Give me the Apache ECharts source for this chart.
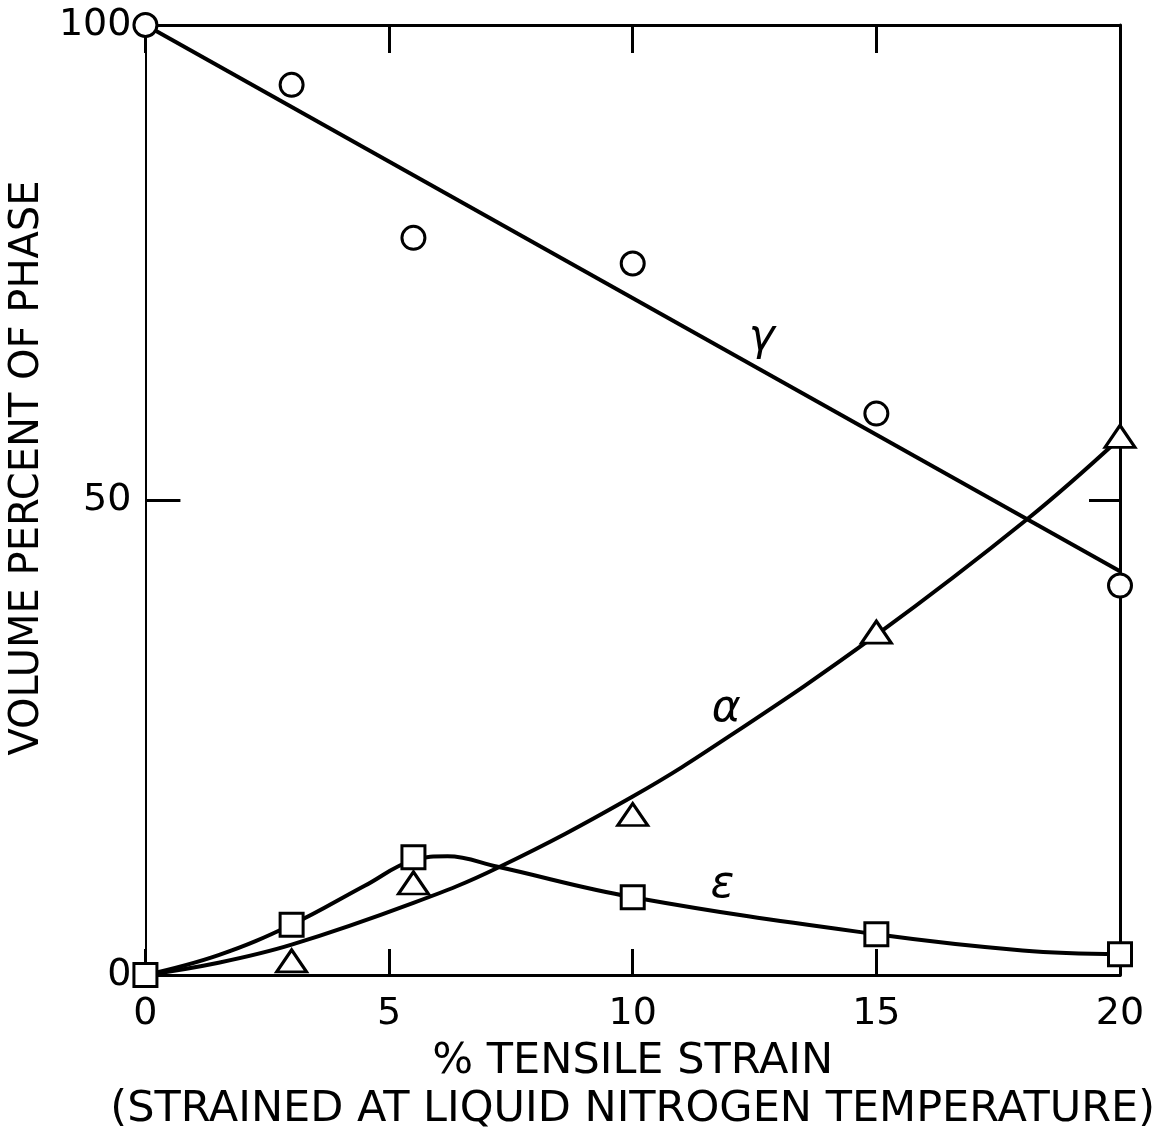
<!DOCTYPE html>
<html>
<head>
<meta charset="utf-8">
<script src="https://cdn.jsdelivr.net/npm/echarts@6/dist/echarts.min.js"></script>
<style>
html,body{margin:0;padding:0;background:#fff;}
#chart{width:1171px;height:1139px;}
</style>
</head>
<body>
<div id="chart"></div>
<script>
// Measured points (x = % tensile strain, y = volume percent)
var gammaPoints = [[0,100],[3,93.7],[5.5,77.6],[10,74.9],[15,59.1],[20,41]];
var alphaPoints = [[3,1.5],[5.5,9.7],[10,16.9],[15,36.1],[20,56.7]];
var epsilonPoints = [[0,0],[3,5.3],[5.5,12.4],[10,8.2],[15,4.3],[20,2.2]];

// Hand-drawn curves
var gammaLine = [[0,100],[20,42.5]];
var alphaCurve = [[0,0],[1.5,1.3],[3,3.2],[5.5,7.6],[7.23,11.3],[10,18.8],[12,25.2],[15,35.8],[18.1,48],[20,56.5]];
var epsilonCurve = [[0,0],[1.5,2.1],[3,5.3],[4.5,9.4],[5.5,12.1],[6.2,12.5],[7.23,11.4],[10,8.2],[15,4.3],[18,2.6],[20,2.2]];

// Curve labels [x, y, text]
var curveLabels = [[12.65,67,'γ'],[11.92,28,'α'],[11.84,9.4,'ε']];

var xTicks = [0,5,10,15,20];
var yTicks = [0,50,100];

var FONT = 'DejaVu Sans';
var chart = echarts.init(document.getElementById('chart'), null, {renderer:'canvas'});

function lineSeries(data){
  return {type:'line', data:data, smooth:0.4, symbol:'none', xAxisIndex:0, yAxisIndex:0,
    lineStyle:{color:'#000', width:4}, z:2, silent:true};
}
function markerSeries(data, symbol, size){
  return {type:'scatter', data:data, symbol:symbol, symbolSize:size, xAxisIndex:0, yAxisIndex:0,
    itemStyle:{color:'#fff', borderColor:'#000', borderWidth:3, opacity:1}, z:5, silent:true};
}

var option = {
  animation:false,
  backgroundColor:'#fff',
  grid:{left:133, right:51, top:25, bottom:151, containLabel:false},
  xAxis:[{
    type:'value', min:xTicks[0], max:xTicks[xTicks.length-1], interval:5, position:'bottom',
    axisLine:{show:true, onZero:false, lineStyle:{color:'#000', width:3}},
    axisTick:{show:true, inside:true, length:26, lineStyle:{color:'#000', width:3}},
    axisLabel:{color:'#000', fontFamily:FONT, fontSize:38, margin:20},
    splitLine:{show:false},
    name:'% TENSILE STRAIN\n(STRAINED AT LIQUID NITROGEN TEMPERATURE)',
    nameLocation:'middle', nameGap:56,
    nameTextStyle:{color:'#000', fontFamily:FONT, fontSize:43, lineHeight:48}
  },{
    type:'value', min:0, max:20, interval:5, position:'top',
    axisLine:{show:true, onZero:false, lineStyle:{color:'#000', width:3}},
    axisTick:{show:true, inside:true, length:28, lineStyle:{color:'#000', width:3}},
    axisLabel:{show:false}, splitLine:{show:false}
  }],
  yAxis:[{
    type:'value', min:yTicks[0], max:yTicks[yTicks.length-1], interval:50, position:'left',
    axisLine:{show:true, onZero:false, lineStyle:{color:'#000', width:2}},
    axisTick:{show:true, inside:true, length:35, lineStyle:{color:'#000', width:3}},
    axisLabel:{color:'#000', fontFamily:FONT, fontSize:38, margin:14},
    splitLine:{show:false},
    name:'VOLUME PERCENT OF PHASE', nameLocation:'middle', nameGap:88,
    nameTextStyle:{color:'#000', fontFamily:FONT, fontSize:40, padding:[0,0,0,64]}
  },{
    type:'value', min:0, max:100, interval:50, position:'right',
    axisLine:{show:true, onZero:false, lineStyle:{color:'#000', width:3}},
    axisTick:{show:true, inside:true, length:31, lineStyle:{color:'#000', width:3}},
    axisLabel:{show:false}, splitLine:{show:false}
  }],
  series:[
    lineSeries(gammaLine),
    lineSeries(alphaCurve),
    lineSeries(epsilonCurve),
    markerSeries(gammaPoints, 'circle', 23),
    markerSeries(alphaPoints, 'triangle', [30,22]),
    markerSeries(epsilonPoints, 'rect', 23),
    {type:'scatter', data:curveLabels, symbolSize:1, itemStyle:{opacity:0}, xAxisIndex:0, yAxisIndex:0, z:6, silent:true,
      label:{show:true, position:'inside', formatter:function(p){return p.data[2];},
        color:'#000', fontFamily:FONT, fontStyle:'italic', fontSize:44, opacity:1}}
  ]
};
chart.setOption(option);
</script>
</body>
</html>
